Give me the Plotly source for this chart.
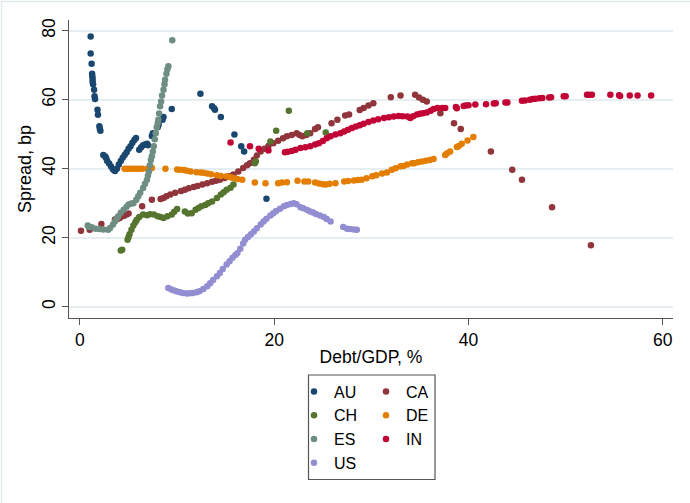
import plotly.graph_objects as go

# ---------------- data ----------------
countries = ["AU", "CA", "CH", "DE", "ES", "IN", "US"]

au_x = [1.1, 1.1, 1.2, 1.25, 1.27, 1.3, 1.3, 1.35, 1.45, 1.5, 1.55, 1.8, 1.85, 2.0, 2.05, 2.1,
        2.4, 2.6, 2.7, 2.8, 3.0, 3.2, 3.4, 3.6, 3.8, 4.0, 4.2, 4.4, 4.6, 4.8, 5.0, 5.2, 5.4, 5.6,
        5.77, 6.1, 6.3, 6.5, 6.7, 6.9, 7.0, 7.4, 7.5, 8.0, 8.1, 8.5, 8.6, 9.45, 12.4, 13.6, 13.8,
        13.9, 14.5, 15.9, 16.6, 16.9, 19.2]
au_y = [78.3, 73.4, 70.4, 67.5, 66.8, 66.0, 65.2, 64.5, 62.9, 61.0, 60.2, 57.1, 55.6, 52.3, 51.5, 51.0,
        44.0, 43.5, 43.0, 42.2, 41.5, 40.6, 39.8, 39.3, 40.0, 41.2, 42.2, 43.2, 44.0, 44.8, 45.8, 46.5,
        47.5, 48.3, 48.9, 45.5, 46.2, 46.8, 47.0, 47.2, 46.8, 49.5, 50.3, 52.0, 52.8, 54.2, 55.0, 57.3,
        61.7, 58.1, 57.5, 57.1, 55.0, 49.9, 46.5, 45.0, 31.3]

ca_x = [0.1, 1.0, 2.2, 3.6, 3.9, 4.1, 4.5, 4.8, 5.0, 6.4, 7.4, 8.3, 8.6, 8.9, 9.3, 9.8, 10.4, 10.8,
        11.2, 11.7, 12.1, 12.6, 13.1, 13.6, 14.0, 14.4, 14.9, 15.4, 15.8, 16.3, 16.8, 17.2, 17.5, 17.9,
        18.2, 18.6, 19.0, 19.4, 19.9, 20.4, 20.9, 21.3, 21.8, 22.3, 22.6, 22.9, 23.3, 23.7, 24.2, 24.5,
        25.9, 26.5, 27.3, 27.7, 28.8, 29.2, 29.7, 30.2, 32.0, 33.0, 34.5, 34.9, 35.3, 35.7, 37.1, 38.5,
        39.2, 42.3, 44.5, 45.5, 48.6, 52.6]
ca_y = [22.0, 22.3, 24.0, 25.3, 25.5, 25.7, 26.3, 26.7, 27.0, 29.1, 31.0, 31.2, 31.5, 32.0, 32.5, 33.0,
        33.5, 33.9, 34.3, 34.7, 35.0, 35.4, 35.8, 36.2, 36.5, 36.8, 37.3, 37.8, 38.3, 39.2, 40.2, 41.0,
        41.6, 42.6, 43.8, 45.0, 45.8, 46.6, 47.4, 48.1, 48.8, 49.4, 49.8, 50.3, 49.8, 49.4, 49.8, 50.3,
        51.5, 52.0, 53.2, 54.2, 55.4, 55.7, 57.0, 57.6, 58.3, 59.0, 60.7, 61.2, 61.4, 60.6, 60.0, 59.5,
        56.1, 53.2, 51.5, 45.0, 39.7, 36.8, 28.8, 17.8]

ch_x = [4.2, 4.35, 4.9, 5.0, 5.1, 5.3, 5.5, 5.7, 5.85, 6.1, 6.5, 6.9, 7.2, 7.6, 8.0, 8.3, 8.6, 9.0,
        9.45, 9.7, 10.0, 10.8, 11.1, 11.5, 11.9, 12.2, 12.5, 12.9, 13.2, 13.6, 14.1, 14.5, 14.8, 15.1,
        15.5, 15.8, 18.0, 18.1, 19.6, 20.2, 21.5, 23.4, 25.3]
ch_y = [16.3, 16.5, 19.4, 20.2, 21.0, 22.3, 23.5, 24.5, 25.2, 26.0, 26.7, 26.5, 26.8, 26.7, 26.2, 26.0,
        25.7, 26.2, 26.7, 27.5, 28.3, 27.6, 27.0, 27.1, 28.1, 28.6, 29.1, 29.5, 30.0, 30.5, 31.5, 32.5,
        33.2, 33.9, 34.5, 35.4, 41.6, 42.1, 47.9, 51.0, 56.8, 50.3, 50.5]

de_x = [4.6, 4.9, 5.2, 5.5, 5.8, 6.1, 6.4, 6.9, 7.4, 8.8, 10.0, 10.3, 10.7, 11.0, 11.4, 12.0, 12.4,
        12.7, 13.1, 13.5, 14.1, 14.5, 15.1, 15.5, 15.8, 16.2, 16.7, 18.0, 19.1, 20.4, 20.8, 21.3, 22.4,
        23.1, 23.5, 24.2, 24.6, 25.0, 25.3, 25.7, 26.3, 27.2, 27.6, 28.2, 28.6, 29.0, 29.5, 30.1, 30.5,
        31.1, 31.6, 32.1, 32.5, 33.0, 33.3, 33.7, 34.2, 34.4, 34.8, 35.2, 35.6, 36.0, 36.4, 37.6, 37.8,
        38.1, 38.8, 39.0, 39.3, 39.9, 40.5]
de_y = [40.0, 40.0, 40.0, 40.0, 40.0, 40.0, 40.0, 40.0, 40.2, 40.0, 39.8, 39.7, 39.6, 39.4, 39.2, 39.0,
        38.9, 38.8, 38.6, 38.4, 38.1, 37.9, 37.8, 37.5, 37.3, 37.0, 36.8, 36.0, 35.8, 35.8, 36.0, 36.1,
        36.5, 36.3, 36.3, 36.0, 35.7, 35.5, 35.4, 35.6, 35.8, 36.3, 36.4, 36.6, 36.7, 36.8, 37.2, 37.8,
        38.1, 38.6, 38.9, 39.7, 40.1, 40.7, 40.8, 41.2, 41.6, 41.6, 41.9, 42.1, 42.3, 42.5, 42.8, 44.0,
        44.5, 45.0, 46.3, 46.6, 47.2, 48.2, 49.2]

es_x = [0.8, 0.9, 1.2, 1.6, 2.0, 2.4, 2.9, 3.1, 3.4, 3.6, 3.8, 3.95, 4.2, 4.5, 4.8, 5.0, 5.3, 5.5,
        5.8, 6.0, 6.2, 6.5, 6.7, 6.9, 7.0, 7.1, 7.2, 7.3, 7.4, 7.5, 7.6, 7.7, 7.8, 7.9, 8.0, 8.07,
        8.15, 8.25, 8.35, 8.45, 8.6, 8.7, 8.76, 8.9, 9.0, 9.1, 9.5]
es_y = [23.5, 23.2, 23.0, 22.6, 22.5, 22.4, 22.3, 22.8, 23.8, 24.8, 25.6, 26.2, 27.2, 28.1, 29.0, 29.6,
        29.9, 30.0, 31.0, 32.0, 33.0, 34.4, 35.6, 36.8, 38.0, 39.2, 41.0, 42.5, 43.6, 45.0, 46.5, 48.5,
        50.3, 52.0, 53.2, 54.2, 56.0, 58.1, 59.5, 61.2, 62.9, 64.5, 65.8, 67.5, 68.8, 69.7, 77.2]

in_x = [15.5, 17.5, 18.4, 19.4, 21.1, 21.4, 21.8, 22.2, 22.7, 23.2, 23.7, 24.2, 24.6, 25.0, 25.4,
        25.8, 26.3, 26.8, 27.2, 27.6, 28.0, 28.4, 28.8, 29.2, 29.7, 30.2, 30.7, 31.3, 31.8, 32.3, 32.8,
        33.2, 33.7, 34.0, 34.3, 34.7, 35.0, 35.3, 35.7, 36.1, 36.4, 36.8, 37.3, 37.6, 38.7, 38.8, 39.5,
        39.7, 40.0, 40.7, 41.8, 42.6, 42.8, 43.8, 44.0, 45.5, 45.8, 46.3, 46.6, 46.9, 47.3, 47.6, 48.3,
        48.5, 49.8, 50.0, 52.2, 52.4, 52.7, 54.6, 55.5, 55.6, 56.6, 57.4, 58.8]
in_y = [47.6, 46.5, 45.8, 45.3, 44.8, 44.9, 45.1, 45.5, 46.0, 46.2, 46.5, 47.0, 47.4, 48.0, 48.8,
        49.4, 49.9, 50.3, 50.8, 51.3, 51.8, 52.2, 52.6, 53.0, 53.5, 54.0, 54.3, 54.7, 54.9, 55.1, 55.3,
        55.2, 55.1, 54.7, 55.2, 55.7, 55.9, 56.1, 56.3, 56.8, 57.3, 57.6, 57.6, 57.6, 57.9, 57.5, 58.2,
        58.3, 58.4, 58.6, 58.7, 58.9, 59.0, 59.2, 59.2, 59.7, 59.8, 60.0, 60.2, 60.3, 60.4, 60.5, 60.6,
        60.7, 61.0, 61.0, 61.4, 61.4, 61.4, 61.4, 61.3, 61.1, 61.2, 61.2, 61.2]

us_x = [9.1, 9.4, 9.7, 10.0, 10.3, 10.6, 11.0, 11.3, 11.6, 12.0, 12.3, 12.7, 13.1, 13.4, 13.7, 14.1,
        14.4, 14.7, 15.1, 15.4, 15.7, 16.0, 16.2, 16.5, 16.8, 17.0, 17.3, 17.6, 17.9, 18.2, 18.6, 18.9,
        19.2, 19.6, 19.9, 20.2, 20.6, 21.0, 21.3, 21.7, 22.0, 22.3, 22.7, 23.0, 23.4, 23.7, 24.0, 24.3,
        24.7, 25.1, 25.4, 25.8, 27.1, 27.5, 27.8, 28.2, 28.5]
us_y = [5.4, 5.0, 4.7, 4.4, 4.2, 4.0, 3.8, 3.9, 4.0, 4.2, 4.5, 5.1, 5.9, 6.8, 7.7, 8.8,
        9.8, 10.9, 12.2, 13.2, 14.2, 15.0, 15.5, 16.8, 18.3, 19.4, 20.2, 21.0, 21.8, 22.7, 23.8, 24.7,
        25.5, 26.4, 27.1, 27.7, 28.4, 29.1, 29.5, 29.8, 30.0, 29.7, 28.8, 28.5, 28.0, 27.6, 27.3, 26.9,
        26.4, 26.0, 25.4, 24.7, 23.1, 22.6, 22.5, 22.4, 22.3]

x_ticks = [0, 20, 40, 60]
y_ticks = [0, 20, 40, 60, 80]
x_title = "Debt/GDP, %"
y_title = "Spread, bp"

series = {
    "AU": (au_x, au_y), "CA": (ca_x, ca_y), "CH": (ch_x, ch_y), "DE": (de_x, de_y),
    "ES": (es_x, es_y), "IN": (in_x, in_y), "US": (us_x, us_y),
}
colors = {"AU": "#1a476f", "CA": "#90353b", "CH": "#55752f", "DE": "#e37e00",
          "ES": "#6e8e84", "IN": "#c10534", "US": "#938dd2"}
legend_of = {"AU": "legend", "CH": "legend", "ES": "legend", "US": "legend",
             "CA": "legend2", "DE": "legend2", "IN": "legend2"}

FONT = "Liberation Sans, Arial, sans-serif"

fig = go.Figure()
for c in countries:
    xs, ys = series[c]
    fig.add_trace(go.Scatter(
        x=xs, y=ys, mode="markers", name=c,
        marker=dict(color=colors[c], size=6.5, line=dict(width=0)),
        legend=legend_of[c],
    ))

# layout geometry (pixels -> paper)
W, H = 690, 503
L, R, T, B = 69, 17, 20, 185
pw, ph = W - L - R, H - T - B

def px_x(p):
    return (p - L) / pw

def px_y(p):
    return (H - B - p) / ph

leg_common = dict(font=dict(family=FONT, size=16, color="black"), bgcolor="rgba(0,0,0,0)",
                  borderwidth=0, xanchor="left", yanchor="top", tracegroupgap=0,
                  itemwidth=30, orientation="v")

fig.update_layout(
    width=W, height=H,
    margin=dict(l=L, r=R, t=T, b=B, autoexpand=False),
    paper_bgcolor="white", plot_bgcolor="white",
    font=dict(family=FONT, size=16, color="black"),
    showlegend=True,
    legend=dict(x=px_x(294), y=px_y(374.5), **leg_common),
    legend2=dict(x=px_x(366), y=px_y(374.5), **leg_common),
    xaxis=dict(
        range=[-1.13, 61.05], tickvals=x_ticks, showgrid=False, zeroline=False,
        showline=True, linecolor="#555555", linewidth=1.3,
        ticks="outside", ticklen=6, tickcolor="#555555", tickwidth=1.3,
        tickfont=dict(size=17.5), title=dict(text=x_title, font=dict(size=17.5), standoff=1),
    ),
    yaxis=dict(
        range=[-3.28, 83.1], tickvals=y_ticks, showgrid=True, gridcolor="#e6eef2", gridwidth=1.6,
        zeroline=False, showline=True, linecolor="#555555", linewidth=1.3,
        ticks="outside", ticklen=6, tickcolor="#555555", tickwidth=1.3, tickangle=-90,
        tickfont=dict(size=17.5), title=dict(text=y_title, font=dict(size=18), standoff=2),
    ),
    shapes=[
        # legend frame
        dict(type="rect", xref="paper", yref="paper",
             x0=px_x(308.5), x1=px_x(435), y0=px_y(479.5), y1=px_y(375),
             line=dict(color="#555555", width=1.2), fillcolor="rgba(0,0,0,0)", layer="above"),
        # outer graph frame (top/left visible)
        dict(type="rect", xref="paper", yref="paper",
             x0=px_x(1.5), x1=px_x(760), y0=px_y(560), y1=px_y(1.5),
             line=dict(color="#e3eaee", width=1.5), fillcolor="rgba(0,0,0,0)", layer="below"),
    ],
)

fig.write_html("out.html", config={"displayModeBar": False},
               post_script="document.body.style.margin='0px';")
